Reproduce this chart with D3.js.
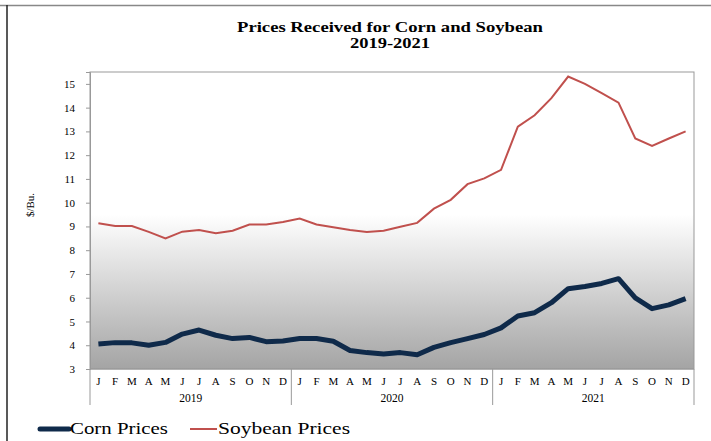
<!DOCTYPE html>
<html>
<head>
<meta charset="utf-8">
<script src="https://cdn.jsdelivr.net/npm/d3@7"></script>
<style>
  body { margin: 0; background: #fff; }
  text { font-family: "Liberation Serif", "Times New Roman", serif; }
</style>
</head>
<body>
<script>
var years = ["2019", "2020", "2021"];
var months = ["J", "F", "M", "A", "M", "J", "J", "A", "S", "O", "N", "D"];
var corn = [4.05, 4.11, 4.10, 4.00, 4.12, 4.47, 4.64, 4.42, 4.28, 4.33, 4.15, 4.18,
            4.28, 4.28, 4.17, 3.78, 3.69, 3.63, 3.69, 3.60, 3.91, 4.11, 4.28, 4.45,
            4.73, 5.23, 5.37, 5.79, 6.38, 6.47, 6.60, 6.80, 5.99, 5.54, 5.70, 5.96];
var soybean = [9.13, 9.02, 9.02, 8.77, 8.50, 8.78, 8.85, 8.71, 8.82, 9.08, 9.08, 9.19,
               9.33, 9.08, 8.97, 8.85, 8.77, 8.82, 8.99, 9.15, 9.75, 10.12, 10.78, 11.02,
               11.38, 13.20, 13.68, 14.40, 15.31, 15.00, 14.61, 14.21, 12.70, 12.39, 12.70, 13.00];
var yTicks = [3, 4, 5, 6, 7, 8, 9, 10, 11, 12, 13, 14, 15];

var width = 711, height = 441;
var plotL = 90, plotR = 694, plotT = 72, plotB = 369;

var svg = d3.select("body")
    .append("svg")
    .attr("width", width)
    .attr("height", height);

// frame lines
svg.append("line").attr("x1", 0).attr("x2", width).attr("y1", 5.5).attr("y2", 5.5)
    .attr("stroke", "#888").attr("stroke-width", 1.5);
svg.append("line").attr("x1", 7).attr("x2", 7).attr("y1", 5).attr("y2", height)
    .attr("stroke", "#222").attr("stroke-width", 1.5);

// title
svg.append("text").attr("x", 390).attr("y", 32).attr("text-anchor", "middle")
    .attr("font-size", "14px").attr("font-weight", "bold")
    .attr("textLength", 306).attr("lengthAdjust", "spacingAndGlyphs")
    .text("Prices Received for Corn and Soybean");
svg.append("text").attr("x", 390).attr("y", 48).attr("text-anchor", "middle")
    .attr("font-size", "14px").attr("font-weight", "bold")
    .attr("textLength", 80).attr("lengthAdjust", "spacingAndGlyphs")
    .text("2019-2021");

var keys = [];
years.forEach(function(y) {
    months.forEach(function(m, i) { keys.push(y + "-" + i); });
});

var x = d3.scaleBand().domain(keys).range([plotL, plotR]);
var y = d3.scaleLinear().domain([3, 15.5]).range([plotB, plotT]);

var defs = svg.append("defs");
var grad = defs.append("linearGradient").attr("id", "bg")
    .attr("x1", 0).attr("x2", 0).attr("y1", 0).attr("y2", 1);
grad.append("stop").attr("offset", 0).attr("stop-color", "#ffffff");
grad.append("stop").attr("offset", 0.48).attr("stop-color", "#ffffff");
grad.append("stop").attr("offset", 1).attr("stop-color", "#a4a4a4");

svg.append("rect")
    .attr("x", plotL).attr("y", plotT)
    .attr("width", plotR - plotL).attr("height", plotB - plotT)
    .attr("fill", "url(#bg)")
    .attr("stroke", "#999").attr("stroke-width", 1);

// y axis
var yAxis = svg.append("g")
    .attr("transform", "translate(" + plotL + ",0)")
    .call(d3.axisLeft(y).tickValues(yTicks).tickSize(4).tickPadding(11));
yAxis.select(".domain").attr("stroke", "#999");
yAxis.selectAll(".tick line").attr("stroke", "#999");
yAxis.selectAll("text").attr("font-size", "11px").attr("font-family", "Liberation Serif, serif")
    .attr("fill", "#000");

svg.append("text")
    .attr("transform", "translate(34,205) rotate(-90)")
    .attr("text-anchor", "middle")
    .attr("font-size", "11px")
    .text("$/Bu.");

// x axis: months, years, separators
svg.append("line").attr("x1", plotL).attr("x2", plotR).attr("y1", plotB).attr("y2", plotB)
    .attr("stroke", "#999");

svg.selectAll("text.month")
    .data(keys)
    .enter()
    .append("text")
    .attr("class", "month")
    .attr("x", function(d) { return x(d) + x.bandwidth() / 2; })
    .attr("y", 385)
    .attr("text-anchor", "middle")
    .attr("font-size", "11px")
    .text(function(d) { return months[+d.split("-")[1]]; });

var yearW = x.bandwidth() * 12;
svg.selectAll("text.year")
    .data(years)
    .enter()
    .append("text")
    .attr("class", "year")
    .attr("x", function(d) { return x(d + "-0") + yearW / 2; })
    .attr("y", 402)
    .attr("text-anchor", "middle")
    .attr("font-size", "11.5px")
    .text(function(d) { return d; });

var seps = years.map(function(d) { return x(d + "-0"); }).concat([plotR]);
svg.selectAll("line.sep")
    .data(seps)
    .enter()
    .append("line")
    .attr("class", "sep")
    .attr("x1", function(d) { return d; })
    .attr("x2", function(d) { return d; })
    .attr("y1", plotB)
    .attr("y2", 405)
    .attr("stroke", "#999");

// series
var line = d3.line()
    .x(function(d, i) { return x(keys[i]) + x.bandwidth() / 2; })
    .y(function(d) { return y(d); });

svg.append("path").datum(soybean)
    .attr("d", line)
    .attr("fill", "none")
    .attr("stroke", "#c0504d")
    .attr("stroke-width", 2);

svg.append("path").datum(corn)
    .attr("d", line)
    .attr("fill", "none")
    .attr("stroke", "#0f2a4a")
    .attr("stroke-width", 5)
    .attr("stroke-linejoin", "round");

// legend
var legend = [
    { name: "Corn Prices", color: "#0f2a4a", w: 5, x: 40, lineLen: 29, len: 98 },
    { name: "Soybean Prices", color: "#c0504d", w: 2, x: 190, lineLen: 27, len: 132 }
];
var lg = svg.selectAll("g.legend")
    .data(legend)
    .enter()
    .append("g")
    .attr("class", "legend")
    .attr("transform", function(d) { return "translate(" + d.x + ",429)"; });
lg.append("line")
    .attr("x1", 0).attr("x2", function(d) { return d.lineLen; })
    .attr("stroke", function(d) { return d.color; })
    .attr("stroke-width", function(d) { return d.w; })
    .attr("stroke-linecap", function(d) { return d.w > 3 ? "round" : "butt"; });
lg.append("text")
    .attr("x", function(d) { return d.lineLen + 1; }).attr("y", 5)
    .attr("font-size", "16px")
    .attr("textLength", function(d) { return d.len; })
    .attr("lengthAdjust", "spacingAndGlyphs")
    .text(function(d) { return d.name; });
</script>
</body>
</html>
